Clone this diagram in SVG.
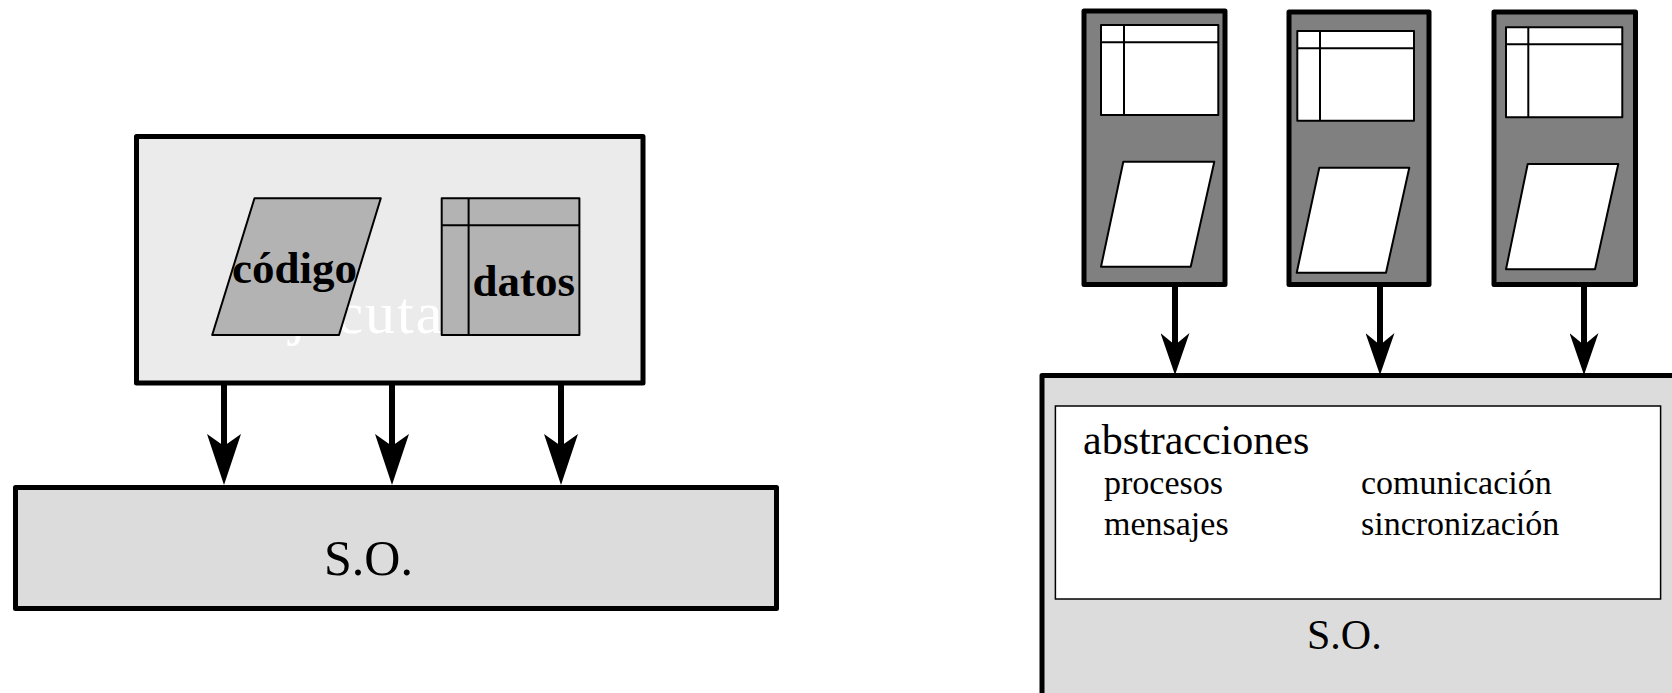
<svg xmlns="http://www.w3.org/2000/svg" width="1672" height="693" viewBox="0 0 1672 693">
<defs>
<style>
.box{stroke:#000;stroke-width:5;stroke-linejoin:round}
.thin{stroke:#000;stroke-width:2;fill:none}
.shape{stroke:#000;stroke-width:2;stroke-linejoin:round}
.conn{stroke:#000;stroke-width:6;fill:none}
.serif{font-family:"Liberation Serif","Times New Roman",serif}
.bold{font-weight:bold;font-size:45px}
</style>
<marker id="ahL" markerUnits="userSpaceOnUse" markerWidth="52" markerHeight="34" viewBox="0 0 52 34" refX="12" refY="17" orient="auto">
<path d="M0,0 L51,17 L0,34 L12,17 Z" fill="#000"/>
</marker>
<marker id="ahR" markerUnits="userSpaceOnUse" markerWidth="43" markerHeight="29" viewBox="0 0 43 29" refX="12" refY="14.5" orient="auto">
<path d="M0,0 L42,14.5 L0,29 L12,14.5 Z" fill="#000"/>
</marker>
</defs>
<rect width="1672" height="693" fill="#fff"/>

<g id="programa">
<rect class="box" x="136.5" y="136.5" width="506.5" height="246.5" fill="#ebebeb"/>
<text class="serif" x="260.5" y="333" font-size="60" letter-spacing="2" fill="#fff">ejecutable</text>
</g>
<g id="codigo">
<polygon class="shape" points="254.5,198.2 380.8,198.2 339,335 212.2,335" fill="#b3b3b3"/>
<text class="serif bold" x="232" y="283">código</text>
</g>
<g id="datos">
<rect class="shape" x="441.7" y="198.2" width="137.7" height="136.8" fill="#b3b3b3"/>
<line class="thin" x1="468.6" y1="198.2" x2="468.6" y2="335"/>
<line class="thin" x1="441.7" y1="225.2" x2="579.4" y2="225.2"/>
<text class="serif bold" x="472.5" y="296">datos</text>
</g>
<g id="so-left">
<rect class="box" x="15.5" y="487.5" width="761" height="121" fill="#dcdcdc"/>
<text class="serif" x="324" y="575" font-size="50">S.O.</text>
</g>

<g id="proc1">
<rect class="box" x="1084" y="11" width="141" height="273.5" fill="#808080"/>
<rect class="shape" x="1101" y="25" width="117.3" height="90" fill="#fff"/>
<line class="thin" x1="1124" y1="25" x2="1124" y2="115"/>
<line class="thin" x1="1101" y1="42.3" x2="1218.3" y2="42.3"/>
<polygon class="shape" points="1123.3,161.7 1214.3,161.7 1190.7,266.7 1101,266.7" fill="#fff"/>
</g>
<g id="proc2">
<rect class="box" x="1289" y="12" width="140" height="272.5" fill="#808080"/>
<rect class="shape" x="1297.3" y="31" width="116.7" height="89.7" fill="#fff"/>
<line class="thin" x1="1320" y1="31" x2="1320" y2="120.7"/>
<line class="thin" x1="1297.3" y1="48.3" x2="1414" y2="48.3"/>
<polygon class="shape" points="1319.3,167.7 1409.3,167.7 1386,272.7 1296.7,272.7" fill="#fff"/>
</g>
<g id="proc3">
<rect class="box" x="1494" y="12" width="141.5" height="272.5" fill="#808080"/>
<rect class="shape" x="1506" y="27.3" width="116.3" height="90" fill="#fff"/>
<line class="thin" x1="1528.3" y1="27.3" x2="1528.3" y2="117.3"/>
<line class="thin" x1="1506" y1="44.3" x2="1622.3" y2="44.3"/>
<polygon class="shape" points="1527.7,164 1618.3,164 1595,269.3 1506,269.3" fill="#fff"/>
</g>
<g id="so-right">
<rect class="box" x="1042" y="375.5" width="640" height="330" fill="#dcdcdc"/>
<rect x="1055.4" y="406" width="605.2" height="193" fill="#fff" stroke="#000" stroke-width="1.5"/>
<g class="serif">
<text x="1083" y="454" font-size="42">abstracciones</text>
<text x="1104" y="494" font-size="34">procesos</text>
<text x="1104" y="535" font-size="34">mensajes</text>
<text x="1361" y="494" font-size="34">comunicación</text>
<text x="1361" y="535" font-size="34">sincronización</text>
<text x="1307" y="649" font-size="42">S.O.</text>
</g>
</g>

<g id="connectors">
<line class="conn" x1="224" y1="385" x2="224" y2="446" marker-end="url(#ahL)"/>
<line class="conn" x1="392" y1="385" x2="392" y2="446" marker-end="url(#ahL)"/>
<line class="conn" x1="561" y1="385" x2="561" y2="446" marker-end="url(#ahL)"/>
<line class="conn" x1="1175" y1="286" x2="1175" y2="345" marker-end="url(#ahR)"/>
<line class="conn" x1="1380" y1="286" x2="1380" y2="345" marker-end="url(#ahR)"/>
<line class="conn" x1="1584" y1="286" x2="1584" y2="345" marker-end="url(#ahR)"/>
</g>
</svg>
